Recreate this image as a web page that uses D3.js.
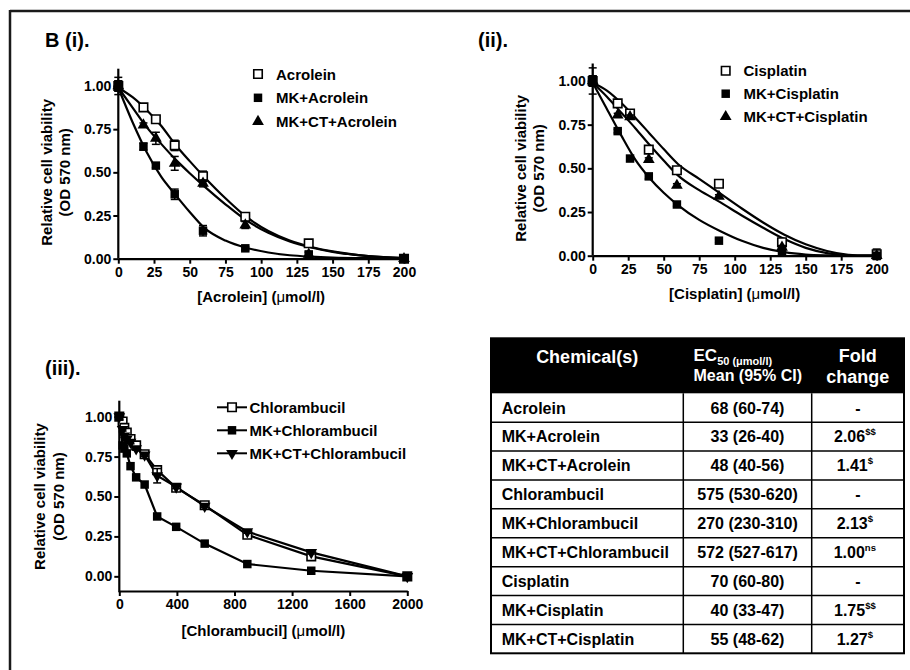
<!DOCTYPE html>
<html><head><meta charset="utf-8">
<script src="https://cdn.jsdelivr.net/npm/d3@7"></script>
<style>
html,body{margin:0;padding:0;background:#fff;}
text{font-family:"Liberation Sans",Arial,sans-serif;font-weight:bold;fill:#000;}
</style></head>
<body><svg id="c" width="910" height="670"></svg>
<script>
// ---------- DATA ----------
const doseAC = [0, 17.6, 26.3, 39.5, 59.3, 88.9, 133.3, 200];
const acrolein      = [1.00, 0.876, 0.807, 0.656, 0.477, 0.243, 0.089, 0.00];
const acroleinErr   = [0.05, 0.01, 0.012, 0.03, 0.03, 0.012, 0.015, 0.005];
const mkAcrolein    = [1.00, 0.649, 0.539, 0.373, 0.162, 0.060, 0.025, 0.00];
const mkAcroleinErr = [0.03, 0.02, 0.012, 0.03, 0.03, 0.01, 0.015, 0.005];
const mkctAcrolein  = [1.00, 0.774, 0.697, 0.552, 0.436, 0.195, 0.025, 0.00];
const mkctAcroleinErr=[0.03, 0.012, 0.035, 0.04, 0.02, 0.02, 0.01, 0.005];

const fitXAC = [0, 10, 20, 30, 40, 50, 60, 75, 90, 105, 120, 135, 150, 175, 200];
const fitAcrolein     = [0.99, 0.935, 0.86, 0.77, 0.66, 0.565, 0.475, 0.35, 0.24, 0.16, 0.105, 0.068, 0.042, 0.015, 0.004];
const fitMkctAcrolein = [0.99, 0.875, 0.76, 0.665, 0.575, 0.495, 0.42, 0.315, 0.22, 0.15, 0.10, 0.065, 0.04, 0.015, 0.004];
const fitMkAcrolein   = [0.99, 0.79, 0.615, 0.475, 0.37, 0.27, 0.18, 0.105, 0.062, 0.036, 0.02, 0.012, 0.007, 0.003, 0.001];

const doseCis = [0, 17.6, 26.3, 39.5, 59.3, 88.9, 133.3, 200];
const cisplatin      = [1.00, 0.872, 0.814, 0.607, 0.489, 0.412, 0.077, 0.008];
const cisplatinErr   = [0.075, 0.012, 0.02, 0.02, 0.015, 0.015, 0.02, 0.03];
const mkCisplatin    = [1.00, 0.713, 0.556, 0.454, 0.293, 0.086, 0.025, 0.00];
const mkCisplatinErr = [0.03, 0.01, 0.01, 0.015, 0.01, 0.01, 0.01, 0.005];
const mkctCisplatin  = [1.00, 0.805, 0.795, 0.55, 0.402, 0.339, 0.048, 0.00];
const mkctCisplatinErr=[0.03, 0.01, 0.01, 0.01, 0.01, 0.01, 0.01, 0.005];

const fitXCis = [0, 10, 20, 30, 40, 50, 60, 75, 90, 105, 120, 135, 150, 165, 180, 188, 200];
const fitCisplatin     = [0.99, 0.945, 0.875, 0.79, 0.70, 0.61, 0.525, 0.44, 0.355, 0.27, 0.19, 0.12, 0.065, 0.027, 0.005, 0.0, 0.0];
const fitMkctCisplatin = [0.99, 0.91, 0.82, 0.73, 0.635, 0.545, 0.46, 0.375, 0.305, 0.23, 0.16, 0.095, 0.045, 0.015, 0.002, 0.0, 0.0];
const fitMkCisplatin   = [0.99, 0.84, 0.69, 0.55, 0.445, 0.36, 0.29, 0.205, 0.14, 0.085, 0.045, 0.02, 0.007, 0.002, 0.0, 0.0, 0.0];

const doseChl = [0, 23, 35, 52, 78, 117, 176, 263, 395, 593, 889, 1333, 2000];
const chlorambucil     = [1.00, 0.97, 0.93, 0.90, 0.86, 0.82, 0.765, 0.665, 0.555, 0.445, 0.26, 0.125, 0.00];
const mkChlorambucil   = [1.00, 0.82, 0.80, 0.77, 0.69, 0.62, 0.575, 0.375, 0.31, 0.205, 0.077, 0.035, 0.00];
const mkctChlorambucil = [1.00, 0.92, 0.88, 0.86, 0.84, 0.80, 0.76, 0.63, 0.56, 0.44, 0.28, 0.15, 0.00];
const mkctChlorambucilErr = [0.02, 0.01, 0.01, 0.01, 0.01, 0.01, 0.01, 0.045, 0.01, 0.01, 0.01, 0.01, 0.005];

const yTicks = [0, 0.25, 0.5, 0.75, 1.0];
const xTicksAC = [0, 25, 50, 75, 100, 125, 150, 175, 200];
const xTicksChl = [0, 400, 800, 1200, 1600, 2000];

const tableChemicals = ["Acrolein","MK+Acrolein","MK+CT+Acrolein","Chlorambucil","MK+Chlorambucil","MK+CT+Chlorambucil","Cisplatin","MK+Cisplatin","MK+CT+Cisplatin"];
const tableEC50 = ["68 (60-74)","33 (26-40)","48 (40-56)","575 (530-620)","270 (230-310)","572 (527-617)","70 (60-80)","40 (33-47)","55 (48-62)"];
const tableFold = ["-","2.06","1.41","-","2.13","1.00","-","1.75","1.27"];
const tableFoldSup = ["","$$","$","","$","ns","","$$","$"];

// ---------- DRAW ----------
const svg = d3.select("#c");
svg.append("rect").attr("width",910).attr("height",670).attr("fill","#fff");
// frame (only top and left visible)
svg.append("line").attr("x1",10).attr("x2",910).attr("y1",11).attr("y2",11).attr("stroke","#1a1a1a").attr("stroke-width",2.5);
svg.append("line").attr("x1",10).attr("x2",10).attr("y1",10).attr("y2",670).attr("stroke","#1a1a1a").attr("stroke-width",2.5);

const symSq = d3.symbol().type(d3.symbolSquare).size(72);
const symTri = d3.symbol().type(d3.symbolTriangle).size(60);

function marker(g, type, x, y, open, rot) {
  const p = g.append("path")
    .attr("d", type === "sq" ? symSq() : symTri())
    .attr("transform", `translate(${x},${y})` + (rot ? " rotate(180)" : ""));
  if (open) p.attr("fill","#fff").attr("stroke","#000").attr("stroke-width",1.6);
  else p.attr("fill","#000");
}

function panel(opt) {
  const g = svg.append("g");
  const x = d3.scaleLinear().domain(opt.xDomain).range(opt.xRange);
  const y = d3.scaleLinear().domain(opt.yDomain).range(opt.yRange);
  // axes
  const ya = g.append("g").attr("transform",`translate(${opt.xRange[0]},0)`)
    .call(d3.axisLeft(y).tickValues(yTicks).tickFormat(d3.format(".2f")).tickSize(5).tickSizeOuter(0).tickPadding(2));
  const xa = g.append("g").attr("transform",`translate(0,${opt.xAxisY})`)
    .call(d3.axisBottom(x).tickValues(opt.xTicks).tickFormat(d3.format("d")).tickSize(5).tickSizeOuter(0).tickPadding(3));
  [ya, xa].forEach(a => {
    a.select(".domain").attr("stroke","#000").attr("stroke-width",2.2);
    a.selectAll(".tick line").attr("stroke","#000").attr("stroke-width",2);
    a.selectAll(".tick text").style("font-family",'"Liberation Sans",Arial,sans-serif').style("font-weight","bold").style("font-size","14px").attr("fill","#000");
  });
  ya.select(".domain").attr("d", `M0,${y(opt.yDomain[0])}V${y(opt.yDomain[1])}`);
  // axis titles
  const cy = (y(1.0) + y(0)) / 2 + (opt.ylabShift || 0);
  g.append("text").attr("transform",`translate(${opt.ylab1X},${cy}) rotate(-90)`).attr("text-anchor","middle")
    .style("font-size","15px").text("Relative cell viability");
  g.append("text").attr("transform",`translate(${opt.ylab2X},${cy}) rotate(-90)`).attr("text-anchor","middle")
    .style("font-size","15px").text("(OD 570 nm)");
  const xt = g.append("text").attr("x",(opt.xRange[0]+opt.xRange[1])/2).attr("y",opt.xTitleY).attr("text-anchor","middle").style("font-size","15px");
  xt.append("tspan").text(`[${opt.chem}] (`);
  xt.append("tspan").style("font-weight","normal").text("μ");
  xt.append("tspan").text("mol/l)");
  // fitted curves or connecting lines
  opt.series.forEach(s => {
    let pts;
    if (s.fit) pts = opt.fitX.map((d,i)=>[x(d), y(s.fit[i])]);
    else pts = opt.dose.map((d,i)=>[x(d), y(s.values[i])]);
    g.append("path").attr("d", d3.line().curve(s.fit ? d3.curveMonotoneX : d3.curveLinear)(pts))
      .attr("fill","none").attr("stroke","#000").attr("stroke-width",2.2);
  });
  // error bars & markers
  opt.series.forEach(s => {
    opt.dose.forEach((d,i) => {
      const e = s.err ? s.err[i] : 0;
      if (e > 0.008) {
        const cx = x(d);
        g.append("line").attr("x1",cx).attr("x2",cx).attr("y1",y(s.values[i]-e)).attr("y2",y(s.values[i]+e)).attr("stroke","#000").attr("stroke-width",1.5);
        [s.values[i]-e, s.values[i]+e].forEach(v => g.append("line").attr("x1",cx-4).attr("x2",cx+4).attr("y1",y(v)).attr("y2",y(v)).attr("stroke","#000").attr("stroke-width",1.5));
      }
    });
    opt.dose.forEach((d,i) => marker(g, s.type, x(d), y(s.values[i]), s.open, s.rot));
  });
  // legend
  opt.series.forEach((s,i) => {
    const ly = opt.legY + i * opt.legDY;
    if (opt.legLine) {
      g.append("line").attr("x1",opt.legX-15).attr("x2",opt.legX+15).attr("y1",ly).attr("y2",ly).attr("stroke","#000").attr("stroke-width",2);
    }
    marker(g, s.type, opt.legX, ly, s.open, s.rot);
    g.append("text").attr("x",opt.legTextX).attr("y",ly+5.5).style("font-size","15px").text(s.name);
  });
  // panel label
  g.append("text").attr("x",opt.labX).attr("y",opt.labY).style("font-size","20px").text(opt.label);
}

panel({
  label:"B (i).", labX:45, labY:47, chem:"Acrolein",
  xDomain:[0,200], xRange:[118.3,404], yDomain:[0,1.1], yRange:[258.7,68.7], xAxisY:258.7,
  xTicks:xTicksAC, xTitleY:302, ylab1X:52, ylab2X:70,
  dose:doseAC, fitX:fitXAC,
  series:[
    {name:"Acrolein", values:acrolein, err:acroleinErr, fit:fitAcrolein, type:"sq", open:true},
    {name:"MK+Acrolein", values:mkAcrolein, err:mkAcroleinErr, fit:fitMkAcrolein, type:"sq", open:false},
    {name:"MK+CT+Acrolein", values:mkctAcrolein, err:mkctAcroleinErr, fit:fitMkctAcrolein, type:"tri", open:false}
  ],
  legX:258, legTextX:276, legY:74, legDY:23.8
});

panel({
  label:"(ii).", labX:478, labY:47, chem:"Cisplatin",
  xDomain:[0,200], xRange:[592.7,876.7], yDomain:[0,1.1], yRange:[255.7,63.5], xAxisY:255.7,
  xTicks:xTicksAC, xTitleY:299, ylab1X:525.5, ylab2X:543.5,
  dose:doseCis, fitX:fitXCis,
  series:[
    {name:"Cisplatin", values:cisplatin, err:cisplatinErr, fit:fitCisplatin, type:"sq", open:true},
    {name:"MK+Cisplatin", values:mkCisplatin, err:mkCisplatinErr, fit:fitMkCisplatin, type:"sq", open:false},
    {name:"MK+CT+Cisplatin", values:mkctCisplatin, err:mkctCisplatinErr, fit:fitMkctCisplatin, type:"tri", open:false}
  ],
  legX:725.7, legTextX:743.5, legY:70.7, legDY:23
});

panel({
  label:"(iii).", labX:45, labY:375, chem:"Chlorambucil",
  xDomain:[0,2000], xRange:[119.3,407.3], yDomain:[-0.1,1.1], yRange:[592.3,400.7], xAxisY:591,
  xTicks:xTicksChl, xTitleY:636, ylab1X:45, ylab2X:64,
  dose:doseChl,
  series:[
    {name:"Chlorambucil", values:chlorambucil, type:"sq", open:true},
    {name:"MK+Chlorambucil", values:mkChlorambucil, type:"sq", open:false},
    {name:"MK+CT+Chlorambucil", values:mkctChlorambucil, err:mkctChlorambucilErr, type:"tri", open:false, rot:true}
  ],
  legX:232, legLine:true, legTextX:249.5, legY:407.3, legDY:23
});

// ---------- TABLE ----------
const tb = svg.append("g");
const colX = [491, 683.3, 811.7, 904];
const headTop = 338.3, headBot = 393.3, rowH = (653.3 - 393.3) / tableChemicals.length;
const rowY = d3.scaleLinear().domain([0, tableChemicals.length]).range([headBot, headBot + rowH * tableChemicals.length]);
tb.append("rect").attr("x",colX[0]).attr("y",headTop).attr("width",colX[3]-colX[0]).attr("height",headBot-headTop).attr("fill","#000");
// header text
tb.append("text").attr("x",(colX[0]+colX[1])/2).attr("y",362.5).attr("text-anchor","middle").style("font-size","18px").style("fill","#fff").text("Chemical(s)");
const ec = tb.append("text").attr("x",693.5).attr("y",361).style("font-size","17px").style("fill","#fff");
ec.append("tspan").text("EC");
ec.append("tspan").attr("dy",4).style("font-size","11px").text("50 (μmol/l)");
tb.append("text").attr("x",693.5).attr("y",381).style("font-size","16px").style("fill","#fff").text("Mean (95% CI)");
tb.append("text").attr("x",(colX[2]+colX[3])/2).attr("y",362).attr("text-anchor","middle").style("font-size","18px").style("fill","#fff").text("Fold");
tb.append("text").attr("x",(colX[2]+colX[3])/2).attr("y",383).attr("text-anchor","middle").style("font-size","18px").style("fill","#fff").text("change");
// rows
tableChemicals.forEach((c,i) => {
  const yc = (rowY(i) + rowY(i+1)) / 2 + 5.8;
  tb.append("text").attr("x",501.7).attr("y",yc).style("font-size","16px").text(c);
  tb.append("text").attr("x",(colX[1]+colX[2])/2).attr("y",yc).attr("text-anchor","middle").style("font-size","16px").text(tableEC50[i]);
  const ft = tb.append("text").attr("x",(colX[2]+colX[3])/2 + (tableFoldSup[i] ? -3 : 0)).attr("y",yc).attr("text-anchor","middle").style("font-size","16px");
  ft.append("tspan").text(tableFold[i]);
  if (tableFoldSup[i]) ft.append("tspan").attr("dy",-7).style("font-size","9.5px").text(tableFoldSup[i]);
});
// grid lines
d3.range(1, tableChemicals.length).forEach(i => {
  tb.append("line").attr("x1",colX[0]).attr("x2",colX[3]).attr("y1",rowY(i)).attr("y2",rowY(i)).attr("stroke","#000").attr("stroke-width",1.5);
});
[colX[1], colX[2]].forEach(cx => tb.append("line").attr("x1",cx).attr("x2",cx).attr("y1",headBot).attr("y2",rowY(tableChemicals.length)).attr("stroke","#000").attr("stroke-width",1.5));
tb.append("rect").attr("x",colX[0]).attr("y",headTop).attr("width",colX[3]-colX[0]).attr("height",rowY(tableChemicals.length)-headTop)
  .attr("fill","none").attr("stroke","#000").attr("stroke-width",2);
</script></body></html>
